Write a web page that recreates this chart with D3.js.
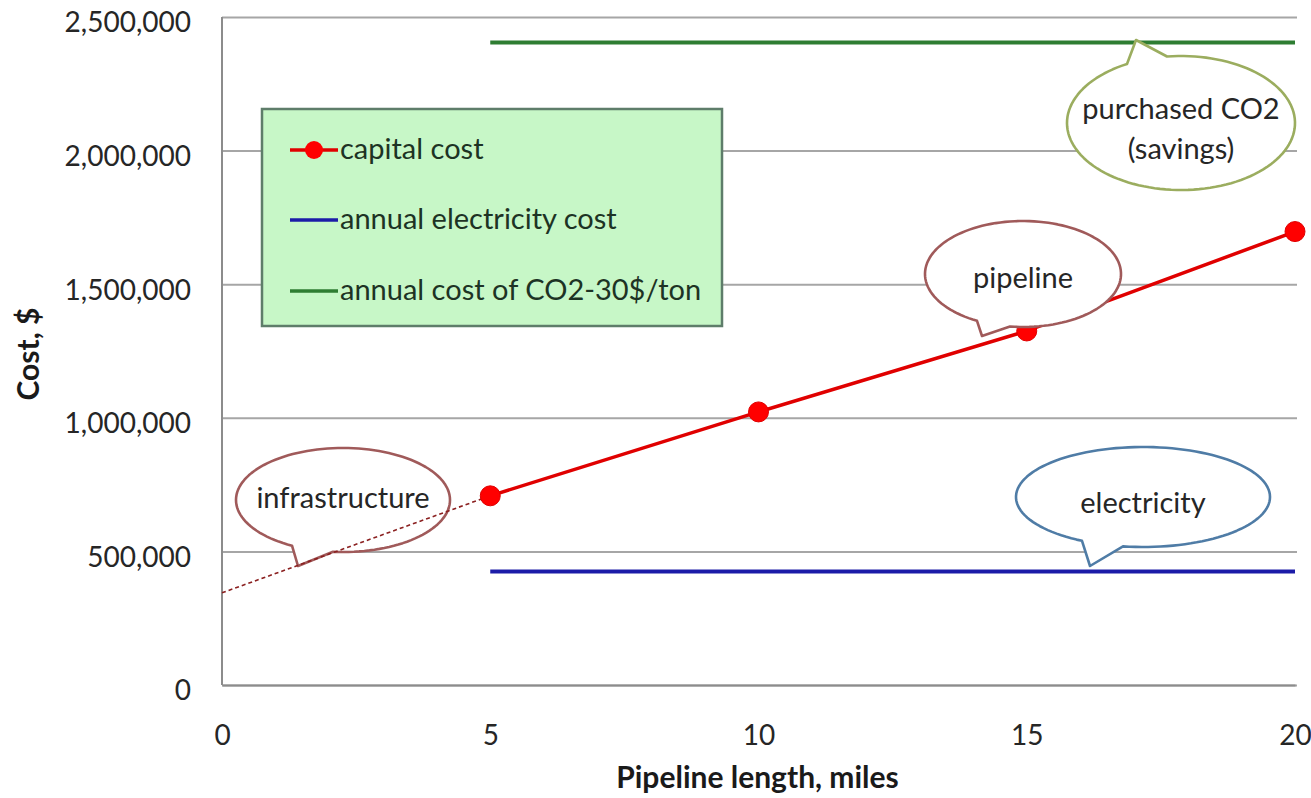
<!DOCTYPE html>
<html>
<head>
<meta charset="utf-8">
<script src="https://cdn.jsdelivr.net/npm/d3@7"></script>
<style>
  html, body { margin: 0; padding: 0; background: #fff; }
  svg { display: block; font-family: Lato, "Open Sans", sans-serif; }
</style>
</head>
<body>
<svg id="chart" width="1311" height="798"></svg>
<script>
// Pipeline length (miles) and capital cost ($)
const pipelineMiles = [5, 10, 15, 20];
const capitalCost = [708000, 1022000, 1325000, 1697000];

// Extrapolated infrastructure share, back to zero length
const infraMiles = [0, 5];
const infraCost = [345000, 708000];

// Annual costs, flat over the 5–20 mile range
const flatMiles = [5, 20];
const electricityCost = [425000, 425000];
const co2Cost = [2405000, 2405000];

const xTicks = [0, 5, 10, 15, 20];
const yTicks = [0, 500000, 1000000, 1500000, 2000000, 2500000];

const legendLabels = ["capital cost", "annual electricity cost", "annual cost of CO2-30$/ton"];

const svg = d3.select("#chart");
const plotL = 222, plotR = 1295, plotT = 17, plotB = 685;
const textColor = "#262626";

const x = d3.scaleLinear().domain([0, 20]).range([plotL, plotR]);
const y = d3.scaleLinear().domain([0, 2500000]).range([plotB, plotT]);

// gridlines
const grid = svg.append("g").attr("transform", `translate(${plotL},0)`)
  .call(d3.axisLeft(y).tickValues(yTicks).tickSize(-(plotR - plotL + 2)).tickFormat(""));
grid.select(".domain").remove();
grid.selectAll(".tick line").attr("stroke", "#a6a6a6").attr("stroke-width", 2);

// y axis labels
const yAxis = svg.append("g").attr("transform", `translate(${plotL - 31},6)`)
  .call(d3.axisLeft(y).tickValues(yTicks).tickSize(0).tickPadding(0).tickFormat(d3.format(",")));
yAxis.select(".domain").remove();
yAxis.selectAll("text").attr("font-size", 28).attr("font-family", "Lato, sans-serif").attr("fill", textColor);

// plot frame (left + bottom)
svg.append("line").attr("x1", plotL).attr("x2", plotL).attr("y1", plotT).attr("y2", plotB)
  .attr("stroke", "#8c8c8c").attr("stroke-width", 2);

// x axis
const xAxis = svg.append("g").attr("transform", `translate(0,${plotB})`)
  .call(d3.axisBottom(x).tickValues(xTicks).tickSize(0).tickPadding(40));
xAxis.select(".domain").attr("stroke", "#8c8c8c").attr("stroke-width", 2);
xAxis.selectAll("text").attr("font-size", 28).attr("font-family", "Lato, sans-serif").attr("fill", textColor);

// axis titles
svg.append("text").attr("x", (plotL + plotR) / 2 - 1).attr("y", 788)
  .attr("text-anchor", "middle").attr("font-size", 30).attr("font-weight", "bold").attr("fill", "#1a1a1a")
  .text("Pipeline length, miles");
svg.append("text").attr("transform", "translate(39,354) rotate(-90)")
  .attr("text-anchor", "middle").attr("font-size", 30).attr("font-weight", "bold").attr("fill", "#1a1a1a")
  .text("Cost, $");

const line = d3.line().x(d => x(d[0])).y(d => y(d[1]));

// flat annual cost lines
svg.append("path").datum(d3.zip(flatMiles, co2Cost)).attr("d", line)
  .attr("fill", "none").attr("stroke", "#2e7d32").attr("stroke-width", 4);
svg.append("path").datum(d3.zip(flatMiles, electricityCost)).attr("d", line)
  .attr("fill", "none").attr("stroke", "#1c1ca8").attr("stroke-width", 4);

// callout bubbles: ellipse with a pointed tail
function bubblePath(c) {
  const sgn = c.tailSide === "top" ? -1 : 1;
  const ta = sgn * Math.acos((c.baseA - c.cx) / c.rx);
  const tb = sgn * Math.acos((c.baseB - c.cx) / c.rx);
  const t1 = Math.min(ta, tb), t2 = Math.max(ta, tb);
  const pt = t => [c.cx + c.rx * Math.cos(t), c.cy + c.ry * Math.sin(t)];
  const pts = [pt(t1), c.tip, pt(t2)];
  const n = 120;
  for (let i = 1; i <= n; i++) pts.push(pt(t2 + (t1 + 2 * Math.PI - t2) * i / n));
  return d3.line()(pts) + "Z";
}

function drawBubble(c) {
  const g = svg.append("g");
  g.append("path").attr("d", bubblePath(c))
    .attr("fill", "#fff").attr("stroke", c.color).attr("stroke-width", 2.6).attr("stroke-linejoin", "round");
  c.lines.forEach((t, i) => {
    g.append("text").attr("x", c.cx).attr("y", c.textY + i * 40)
      .attr("text-anchor", "middle").attr("font-size", 29).attr("fill", textColor).text(t);
  });
}

const bubbles = {
  infrastructure: { cx: 343, cy: 500, rx: 107, ry: 52, tailSide: "bottom", baseA: 292, baseB: 333,
    tip: [298, 566], color: "#a05a5a", lines: ["infrastructure"], textY: 508 },
  pipeline: { cx: 1023, cy: 274, rx: 98, ry: 53, tailSide: "bottom", baseA: 977, baseB: 1010,
    tip: [982, 336], color: "#a05a5a", lines: ["pipeline"], textY: 288 },
  co2: { cx: 1181, cy: 123, rx: 114, ry: 67, tailSide: "top", baseA: 1127, baseB: 1167,
    tip: [1136, 40], color: "#9bad5f", lines: ["purchased CO2", "(savings)"], textY: 119 },
  electricity: { cx: 1143, cy: 497, rx: 127, ry: 50, tailSide: "bottom", baseA: 1082, baseB: 1123,
    tip: [1090, 566], color: "#4f7ca6", lines: ["electricity"], textY: 513 }
};

drawBubble(bubbles.infrastructure);
drawBubble(bubbles.electricity);
drawBubble(bubbles.co2);

// dashed extrapolation to zero length
svg.append("path").datum(d3.zip(infraMiles, infraCost)).attr("d", line)
  .attr("fill", "none").attr("stroke", "#8b2020").attr("stroke-width", 1.6).attr("stroke-dasharray", "4,3");

// capital cost series
svg.append("path").datum(d3.zip(pipelineMiles, capitalCost)).attr("d", line)
  .attr("fill", "none").attr("stroke", "#e00000").attr("stroke-width", 3.5);
svg.append("g").selectAll("circle").data(d3.zip(pipelineMiles, capitalCost)).join("circle")
  .attr("cx", d => x(d[0])).attr("cy", d => y(d[1])).attr("r", 10)
  .attr("fill", "#ff0000").attr("stroke", "#e00000").attr("stroke-width", 1);

drawBubble(bubbles.pipeline);

// legend
const lg = svg.append("g");
lg.append("rect").attr("x", 262).attr("y", 109).attr("width", 460).attr("height", 217)
  .attr("fill", "#c7f7c7").attr("stroke", "#5e7d6a").attr("stroke-width", 2.5);
const legendColors = ["#e00000", "#1c1ca8", "#2e7d32"];
const legendY = [150, 220, 291];
legendLabels.forEach((lab, i) => {
  lg.append("line").attr("x1", 290).attr("x2", 338).attr("y1", legendY[i]).attr("y2", legendY[i])
    .attr("stroke", legendColors[i]).attr("stroke-width", 3.5);
  if (i === 0) lg.append("circle").attr("cx", 314).attr("cy", legendY[i]).attr("r", 9).attr("fill", "#ff0000");
  lg.append("text").attr("x", 340).attr("y", legendY[i] + 9).attr("font-size", 29).attr("fill", "#1d3324").text(lab);
});
</script>
</body>
</html>
